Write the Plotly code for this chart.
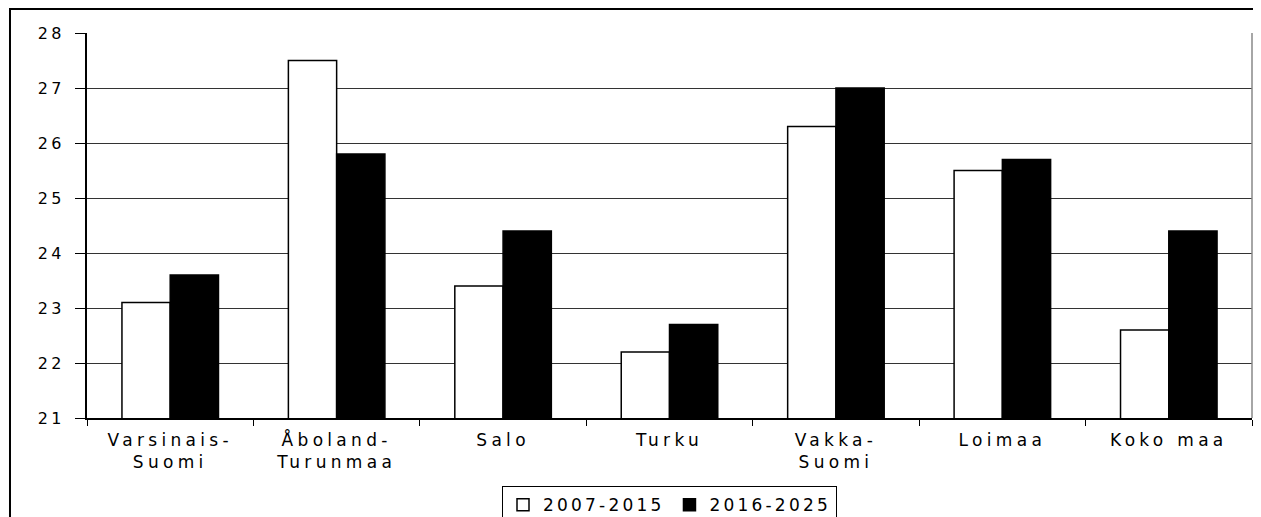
import plotly.graph_objects as go

categories = ["Varsinais-<br>Suomi", "Åboland-<br>Turunmaa", "Salo", "Turku", "Vakka-<br>Suomi", "Loimaa", "Koko maa"]
series_names = ["2007-2015", "2016-2025"]
values_2007_2015 = [23.1, 27.5, 23.4, 22.2, 26.3, 25.5, 22.6]
values_2016_2025 = [23.6, 25.8, 24.4, 22.7, 27.0, 25.7, 24.4]
y_ticks = [21, 22, 23, 24, 25, 26, 27, 28]

FONT = "DejaVu Sans, Arial, sans-serif"


def spaced(text, ls):
    parts = text.split("<br>")
    return "<br>".join(f'<span style="letter-spacing:{ls}px">{p}</span>' for p in parts)


fig = go.Figure()
fig.add_trace(go.Bar(x=categories, y=values_2007_2015, name=spaced(series_names[0], 3.2),
                     marker=dict(color="white", line=dict(color="black", width=1.5))))
fig.add_trace(go.Bar(x=categories, y=values_2016_2025, name=spaced(series_names[1], 3.2),
                     marker=dict(color="black", line=dict(color="black", width=1.5))))

fig.update_layout(
    width=1253, height=509,
    margin=dict(l=79, r=9, t=25, b=99, autoexpand=False),
    paper_bgcolor="white", plot_bgcolor="white",
    barmode="group", bargap=0.42, bargroupgap=0,
    font=dict(family=FONT, size=16, color="black"),
    showlegend=True,
    legend=dict(orientation="h", x=0.5, xanchor="center", y=-0.177, yanchor="top",
                bordercolor="black", borderwidth=1, font=dict(size=17, family=FONT),
                itemwidth=30, tracegroupgap=0),
    xaxis=dict(showline=True, linecolor="black", linewidth=1.5, ticks="outside",
               tickson="boundaries", ticklen=6, tickcolor="black",
               tickvals=categories, ticktext=[spaced(c, 4.3) for c in categories],
               ticklabelstandoff=6,
               tickfont=dict(size=17, family=FONT), showgrid=False, automargin=False),
    yaxis=dict(range=[21, 28], tickvals=y_ticks, ticktext=[spaced(str(v), 3.5) for v in y_ticks],
               showline=True, linecolor="black",
               linewidth=1.5, ticks="outside", ticklen=10, tickcolor="black",
               ticklabelstandoff=7,
               showgrid=True, gridcolor="#333", gridwidth=1,
               tickfont=dict(size=16, family=FONT), zeroline=False, automargin=False),
    shapes=[
        dict(type="line", xref="paper", yref="paper", x0=1, x1=1, y0=0, y1=1,
             line=dict(color="#888", width=1.5)),
        dict(type="rect", xref="paper", yref="paper", x0=-0.0661, x1=1.03, y0=1.0623, y1=-0.3,
             line=dict(color="black", width=2)),
    ],
)

fig.write_html("out.html")
